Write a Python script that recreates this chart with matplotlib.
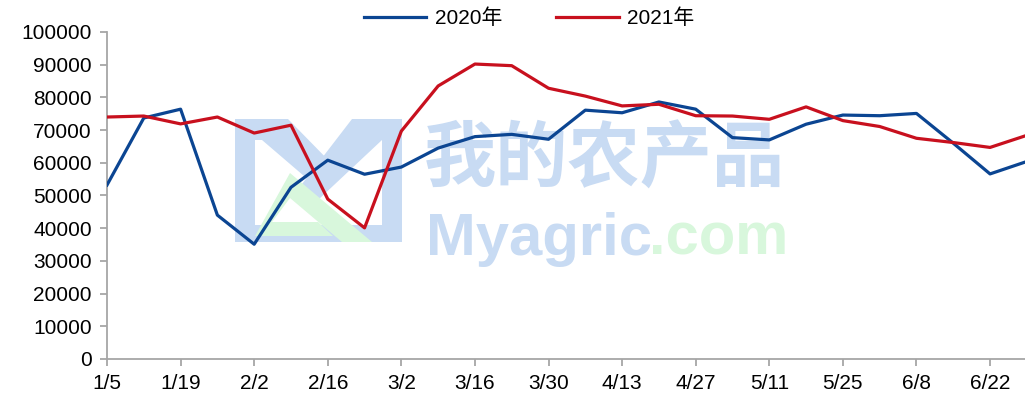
import matplotlib
matplotlib.use("Agg")
from matplotlib import pyplot as plt
import matplotlib.patches as patches

plt.rcParams['font.family'] = ['Liberation Sans', 'Noto Sans CJK SC', 'DejaVu Sans']

# weekly dates, 1/5 .. 6/29
dates = ['1/5', '1/12', '1/19', '1/26', '2/2', '2/9', '2/16', '2/23', '3/2', '3/9',
         '3/16', '3/23', '3/30', '4/6', '4/13', '4/20', '4/27', '5/4', '5/11', '5/18',
         '5/25', '6/1', '6/8', '6/15', '6/22', '6/29']

values_2020 = [53200, 73700, 76400, 44000, 35100, 52500, 60800, 56500, 58700, 64500,
               68000, 68700, 67200, 76100, 75300, 78600, 76400, 67700, 67000, 71800,
               74600, 74400, 75100, 66000, 56600, 60400]

values_2021 = [74000, 74300, 71900, 74000, 69100, 71500, 48900, 40100, 69700, 83500,
               90200, 89700, 82800, 80400, 77400, 77900, 74400, 74300, 73300, 77100,
               72900, 71100, 67500, 66200, 64700, 68400]

series_names = ['2020年', '2021年']
series_colors = ['#0b4592', '#c8101e']

W, H = 1025, 400


def px(x, y):
    # reference pixel (top-left origin) -> figure fraction
    return (x / W, 1 - y / H)


fig = plt.figure(figsize=(W / 100, H / 100), dpi=100)
ax = fig.add_axes([107 / W, 1 - 359 / H, 1 - 107 / W, (359 - 32) / H])

# watermark logo
wm_blue = '#c8dbf3'
wm_green = '#d8f7dc'
logo_blue = [
    [(235, 119), (255, 119), (255, 242), (235, 242)],
    [(382, 119), (402, 119), (402, 242), (382, 242)],
    [(235, 225), (402, 225), (402, 242), (235, 242)],
    [(235, 119), (288, 119), (336, 168), (318, 188), (262, 140), (235, 140)],
    [(352, 119), (402, 119), (402, 140), (382, 140), (318, 200), (302, 184)],
]
for poly in logo_blue:
    ax.add_patch(patches.Polygon([px(*p) for p in poly], closed=True, fc=wm_blue,
                                 ec='none', transform=fig.transFigure, zorder=0.5))
logo_green = [(255, 236), (290, 173), (372, 242), (342, 242), (290, 198),
              (272, 222), (318, 222), (333, 236)]
ax.add_patch(patches.Polygon([px(*p) for p in logo_green], closed=True, fc=wm_green,
                             ec='none', transform=fig.transFigure, zorder=0.6))

ax.text(*px(424, 160), '我的农产品', transform=fig.transFigure, fontsize=52,
        family=['Noto Sans CJK SC'], fontweight='bold', color=wm_blue,
        ha='left', va='center', zorder=0.5)
ax.text(*px(426, 255), 'Myagric', transform=fig.transFigure, fontsize=43,
        fontweight='bold', color=wm_blue, ha='left', va='baseline', zorder=0.5)
ax.text(*px(788, 255), '.com', transform=fig.transFigure, fontsize=43,
        fontweight='bold', color=wm_green, ha='right', va='baseline', zorder=0.5)

x = list(range(len(dates)))
ax.plot(x, values_2020, color=series_colors[0], lw=2.3, label=series_names[0], zorder=3)
ax.plot(x, values_2021, color=series_colors[1], lw=2.3, label=series_names[1], zorder=3)

ax.set_xlim(0, 24.95)
ax.set_ylim(0, 100000)
ax.set_yticks(range(0, 100001, 10000))
ax.set_xticks(x[::2])
ax.set_xticklabels(dates[::2])

ax.patch.set_alpha(0)
for s in ['top', 'right']:
    ax.spines[s].set_visible(False)
for s in ['left', 'bottom']:
    ax.spines[s].set_color('#a6a6a6')
    ax.spines[s].set_linewidth(1.3)
ax.tick_params(axis='both', colors='#a6a6a6', width=1.3, length=5,
               labelsize=15, labelcolor='black')
ax.tick_params(axis='x', pad=6)
ax.tick_params(axis='y', pad=6)

fig.legend(loc='center', bbox_to_anchor=px(529, 18), ncol=2, frameon=False,
           fontsize=15, handlelength=3.0, handletextpad=0.4, columnspacing=2.6)

fig.savefig('out.png', dpi=100)
